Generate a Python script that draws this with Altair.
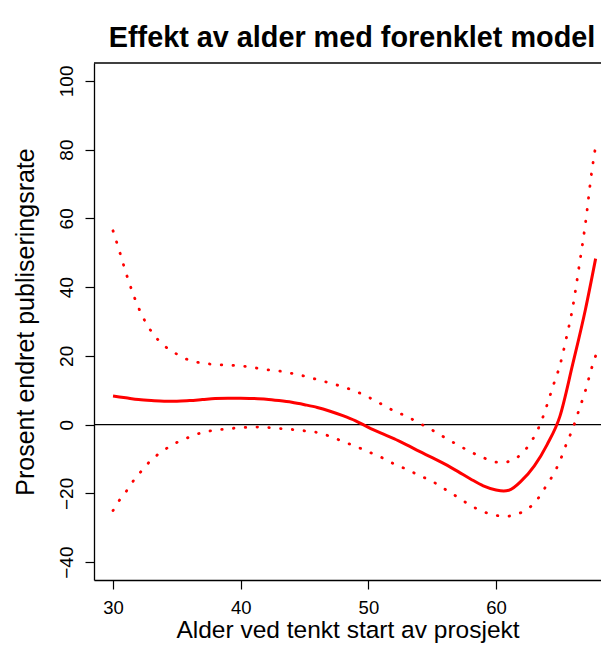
import altair as alt
import pandas as pd

# Fitted effect (solid line)
x_fit = [30, 31, 32, 33, 34, 35, 36, 37, 38, 39, 40, 41, 42, 43, 44, 45, 46, 47, 48, 49,
         50, 51, 52, 53, 54, 55, 56, 57, 58, 59, 60, 60.6, 61, 62, 63, 64, 65, 66, 67, 67.8]
y_fit = [8.3, 7.8, 7.3, 7.0, 6.8, 6.8, 7.0, 7.3, 7.6, 7.7, 7.7, 7.6, 7.4, 7.0, 6.5, 5.8, 5.0, 3.9, 2.6, 1.1,
         -0.8, -2.5, -4.1, -5.9, -7.8, -9.6, -11.5, -13.6, -15.8, -17.8, -19.0, -19.3, -19.1, -16.3, -12.0, -5.8, 2.4, 17.5, 33.5, 48.3]

# Upper confidence band (dotted)
x_upper = [30, 30.5, 31, 31.5, 32, 33, 34, 35, 36, 37, 38, 39, 40, 41, 42, 43, 44, 45, 46, 47, 48, 49,
           50, 51, 52, 53, 54, 55, 56, 57, 58, 59, 60, 60.7, 61, 62, 63, 63.5, 64, 64.5, 65, 65.5,
           66, 66.5, 67, 67.5, 67.8]
y_upper = [56.4, 50.5, 44.3, 38.8, 34.0, 27.1, 23.0, 20.5, 18.7, 17.9, 17.5, 17.3, 17.1, 16.6, 16.0, 15.6, 14.9, 14.1, 13.1, 12.1, 11.0, 9.7,
           8.0, 6.0, 4.0, 2.4, 0.4, -1.6, -3.8, -5.9, -7.9, -9.6, -10.9, -11.0, -10.7, -8.5, -3.4, 0.5, 5.8, 11.6, 17.2, 25.1,
           34.0, 45.9, 58.5, 73.7, 81.0]

# Lower confidence band (dotted)
x_lower = [30, 30.5, 31, 31.5, 32, 33, 34, 35, 36, 37, 38, 39, 40, 41, 42, 43, 44, 45, 46, 47, 48, 49,
           50, 51, 52, 53, 54, 55, 56, 57, 58, 59, 60, 60.7, 61.5, 62, 62.5, 63, 63.5, 64, 64.5, 65, 65.5,
           66, 66.5, 67, 67.5, 67.8]
y_lower = [-25.0, -22.0, -19.6, -16.8, -14.5, -10.3, -7.4, -5.2, -3.6, -2.3, -1.6, -1.2, -0.9, -0.7, -0.8, -1.1, -1.4, -1.8, -2.3, -3.4, -4.9, -6.3,
           -7.9, -9.5, -11.4, -13.0, -14.8, -16.5, -18.8, -21.1, -23.5, -25.3, -26.4, -26.7, -26.2, -25.5, -24.3, -23.0, -20.3, -17.4, -14.4, -10.6, -5.7,
           -1.2, 4.3, 9.9, 16.6, 20.0]

x_ticks = [30, 40, 50, 60]
y_ticks = [-40, -20, 0, 20, 40, 60, 80, 100]

title_text = "Effekt av alder med forenklet model"
x_title = "Alder ved tenkt start av prosjekt"
y_title = "Prosent endret publiseringsrate"

rows = []
for s, xs, ys in [("fit", x_fit, y_fit), ("upper", x_upper, y_upper), ("lower", x_lower, y_lower)]:
    for a, b in zip(xs, ys):
        rows.append({"s": s, "x": a, "y": b})
df = pd.DataFrame(rows)

FONT = "Liberation Sans"

xscale = alt.Scale(domain=[28.51, 68.22], nice=False, zero=False)
yscale = alt.Scale(domain=[-45.2, 105.2], nice=False, zero=False)

xaxis = alt.Axis(values=x_ticks, title=x_title, grid=False, domain=True, domainColor="black", domainWidth=1.3,
                 tickSize=9, tickColor="black", tickWidth=1.2,
                 labelFont=FONT, labelFontSize=18.5, labelColor="black", labelBaseline="top", labelPadding=9,
                 titleFont=FONT, titleFontSize=24.5, titleFontWeight="normal", titleColor="black",
                 titleBaseline="alphabetic", titleY=57)
yaxis = alt.Axis(values=y_ticks, title=y_title, grid=False, domain=True, domainColor="black", domainWidth=1.3,
                 tickSize=9, tickColor="black", tickWidth=1.2,
                 labelFont=FONT, labelFontSize=19, labelColor="black", labelAngle=-90,
                 labelAlign="center", labelBaseline="alphabetic", labelPadding=13,
                 titleFont=FONT, titleFontSize=25, titleFontWeight="normal", titleColor="black",
                 titleAngle=270, titleBaseline="alphabetic", titleAlign="center", titleX=-61, titleY=258.5)

base = alt.Chart(df).encode(
    x=alt.X("x:Q", scale=xscale, axis=xaxis),
    y=alt.Y("y:Q", scale=yscale, axis=yaxis),
)

fit = base.transform_filter(alt.datum.s == "fit").mark_line(
    color="#FF0000", strokeWidth=3, interpolate="monotone", clip=True)

ci = base.transform_filter(alt.datum.s != "fit").mark_line(
    color="#FF0000", strokeWidth=2.8, strokeCap="round", strokeDash=[0.5, 11.3],
    interpolate="monotone", clip=True).encode(detail="s:N")

zero = alt.Chart(pd.DataFrame({"y": [0]})).mark_rule(color="black", strokeWidth=1.3).encode(
    y=alt.Y("y:Q", scale=yscale, axis=yaxis))

# top frame line (the right side of R's box lies outside the picture)
top_line = alt.Chart(pd.DataFrame({"a": [0]})).mark_rule(color="black", strokeWidth=1.3).encode(
    y=alt.value(0))

title = alt.Chart(pd.DataFrame({"a": [0]})).mark_text(
    text=title_text, font=FONT, fontSize=28.8, fontWeight="bold", color="black",
    align="center", baseline="alphabetic").encode(x=alt.value(258), y=alt.value(-16.5))

chart = alt.layer(zero, ci, fit, top_line, title).properties(
    width=507, height=517,
    autosize=alt.AutoSizeParams(type="none"),
    padding={"left": 86, "top": 55, "right": 0, "bottom": 63},
).configure_view(stroke=None)

chart.save("out.html", embed_options={"renderer": "svg", "actions": False})
